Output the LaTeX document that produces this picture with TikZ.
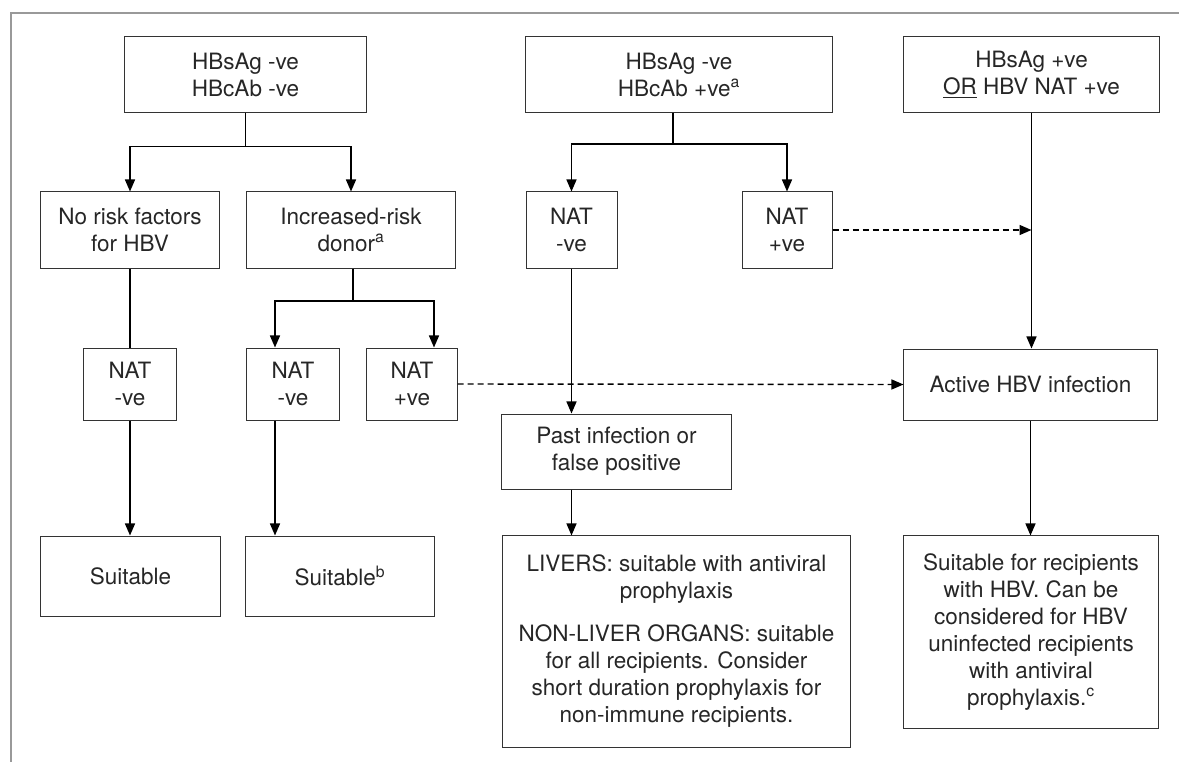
\documentclass[tikz,border=0pt]{standalone}
\usepackage{fontspec}
\setmainfont{TeX Gyre Heros}
\usetikzlibrary{arrows.meta,calc}

\begin{document}
\begin{tikzpicture}[x=0.025cm,y=-0.025cm,
    box/.style={draw=black!80, line width=0.7pt, align=center, inner sep=0pt,
      text=black!85, font=\fontsize{16}{19.2}\selectfont},
    sz/.style 2 args={minimum width=#1cm, minimum height=#2cm},
    arr/.style={-{Triangle[length=0.3cm,width=0.25cm]}, line width=1pt},
    link/.style={line width=1pt},
    dashlink/.style={dash pattern=on 0.15cm off 0.1cm},
    outerline/.style={draw=black!40, line width=1pt}]
  \useasboundingbox (0,0) rectangle (1179,762);
  % outer frame
  \draw[outerline] (1179,13) -- (11,13) -- (11,762);

  % top row
  \node[box, sz={6.025}{1.875}] (negneg) at (245.5,74.5) {HBsAg -ve\\HBcAb -ve};
  \node[box, sz={7.65}{1.875}] (negpos) at (679,74.5) {HBsAg -ve\\HBcAb +ve\textsuperscript{a}};
  \node[box, sz={6.375}{1.875}] (pos) at (1031.5,74.5) {HBsAg +ve\\\underline{OR} HBV NAT +ve};

  % second row
  \node[box, sz={4.45}{1.9}] (norisk) at (130,230) {No risk factors\\for HBV};
  \node[box, sz={5.2}{1.9}] (incrisk) at (351,230) {Increased-risk\\donor\textsuperscript{a}};
  \node[box, sz={2.275}{1.9}] (natneg) at (571.5,230) {NAT\\-ve};
  \node[box, sz={2.25}{1.9}] (natpos) at (787,230) {NAT\\+ve};

  % third row
  \node[box, sz={2.3}{1.8}] (noriskneg) at (130,384) {NAT\\-ve};
  \node[box, sz={2.3}{1.8}] (incneg) at (293,384) {NAT\\-ve};
  \node[box, sz={2.25}{1.8}] (incpos) at (412,384) {NAT\\+ve};
  \node[box, sz={6.325}{1.775}] (active) at (1030.5,384.5) {Active HBV infection};
  \node[box, sz={5.725}{1.875}] (past) at (616.5,451.5) {Past infection or\\false positive};

  % outcomes
  \node[box, sz={4.475}{2.0}] (suit) at (130.5,576) {Suitable};
  \node[box, sz={4.7}{2.0}] (suitb) at (340,576) {Suitable\textsuperscript{b}};
  \node[box, sz={8.675}{5.275}] (livers) at (676.5,641.5) {LIVERS: suitable with antiviral\\prophylaxis\\[0.4cm]NON-LIVER ORGANS: suitable\\for all recipients. Consider\\short duration prophylaxis for\\non-immune recipients.};
  \node[box, sz={6.35}{4.8}] (hbvrec) at (1031,632) {Suitable for recipients\\with HBV. Can be\\considered for HBV\\uninfected recipients\\with antiviral\\prophylaxis.\textsuperscript{c}};

  % split below HBsAg -ve / HBcAb -ve
  \draw[arr] (negneg.south) -- ++(0,34) -| (norisk.north);
  \draw[arr] (negneg.south) -- ++(0,34) -| (incrisk.north);

  % split below HBsAg -ve / HBcAb +ve
  \coordinate (bsplit) at (673,144);
  \draw[link] (negpos.south -| bsplit) -- (bsplit);
  \draw[arr] (bsplit) -| (natneg.north);
  \draw[arr] (bsplit) -| (natpos.north);

  % split below increased-risk donor
  \coordinate (esplit) at (353,301);
  \draw[link] (incrisk.south -| esplit) -- (esplit);
  \draw[arr] (esplit) -| ($(incneg.north)+(-18,0)$);
  \draw[arr] (esplit) -| ($(incpos.north)+(22,0)$);

  % no risk factors
  \draw[link] (norisk.south) -- (noriskneg.north);
  \draw[arr] (noriskneg.south) -- (noriskneg.south |- suit.north);
  \draw[arr] ($(incneg.south)+(-18,0)$) coordinate (jd) -- (jd |- suitb.north);

  % HBcAb +ve, NAT -ve
  \draw[arr] (natneg.south) -- (natneg.south |- past.north);
  \draw[arr] (natneg.south |- past.south) -- (natneg.south |- livers.north);

  % active infection
  \draw[arr] (pos.south) -- (pos.south |- active.north);
  \draw[arr] (active.south) -- (active.south |- hbvrec.north);
  \draw[arr, dashlink] (natpos.east) -- (natpos.east -| pos.south);
  \draw[arr, dashlink] (incpos.east) -- (active.west);
\end{tikzpicture}
\end{document}
